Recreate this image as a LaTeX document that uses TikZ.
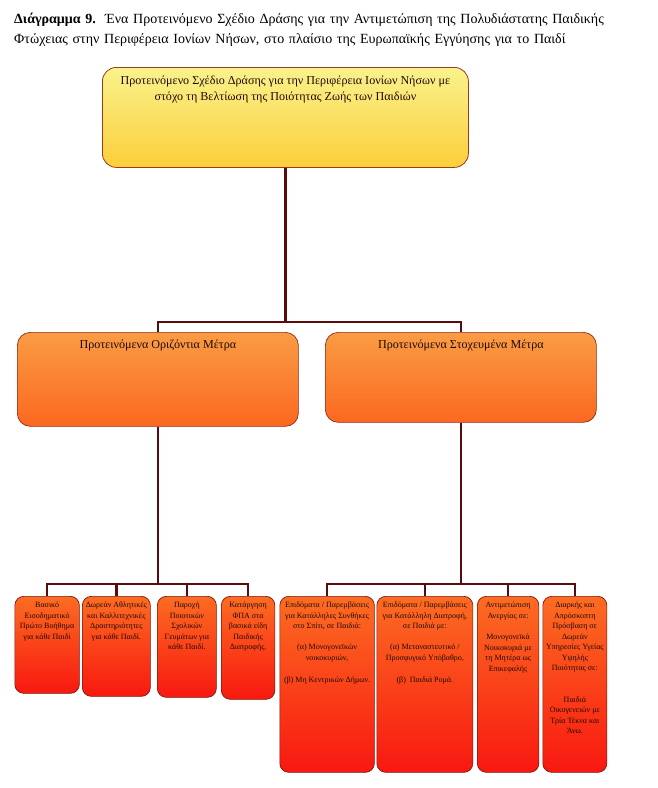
\documentclass[tikz,border=0pt]{standalone}
\usepackage{fontspec}
\setmainfont{Liberation Serif}
\definecolor{linkred}{HTML}{5A0C0C}
\definecolor{planedge}{HTML}{9A3A1E}
\definecolor{groupedge}{HTML}{8E2A18}
\definecolor{measedge}{HTML}{7A1810}
\definecolor{inktext}{HTML}{1E0A05}
\newcommand{\boxtext}[4]{\parbox[c][#2][t]{#1}{\centering\vspace*{#3}\strut#4\par}}
\newcommand{\captionfont}{\fontsize{14}{20}\selectfont\spaceskip=0.25em plus 1em minus 0.05em\relax}

\begin{document}
\begin{tikzpicture}[x=1pt,y=-1pt,
  planbox/.style={draw=planedge, line width=0.8pt, rounded corners=14pt, top color={rgb,255:red,249;green,242;blue,140}, bottom color={rgb,255:red,252;green,206;blue,58}, anchor=north west, inner sep=0pt, text=inktext, font=\fontsize{12.1}{16}\selectfont},
  groupbox/.style={draw=groupedge, line width=0.7pt, rounded corners=13pt, top color={rgb,255:red,250;green,156;blue,68}, bottom color={rgb,255:red,251;green,104;blue,32}, anchor=north west, inner sep=0pt, text=inktext, font=\fontsize{12.1}{14}\selectfont},
  measbox/.style={draw=measedge, line width=0.7pt, rounded corners=9pt, top color={rgb,255:red,252;green,108;blue,34}, bottom color={rgb,255:red,248;green,24;blue,16}, anchor=north west, inner sep=0pt, text=inktext, font=\fontsize{8}{10.5}\selectfont},
  link/.style={draw=linkred, line width=2.6pt}]
\useasboundingbox (0,0) rectangle (657,788);

%% caption
\node[anchor=north west, inner sep=0pt, text width=618pt, align=left, font=\captionfont] (title) at (14,12.5)
  {\makebox[618pt][s]{\textbf{Διάγραμμα 9.}\ \ Ένα Προτεινόμενο Σχέδιο Δράσης για την Αντιμετώπιση της Πολυδιάστατης Παιδικής}\\
   Φτώχειας στην Περιφέρεια Ιονίων Νήσων, στο πλαίσιο της Ευρωπαϊκής Εγγύησης για το Παιδί};

%% top level
\node[planbox] (plan) at (102,67) {\boxtext{366pt}{100pt}{5.5pt}{Προτεινόμενο Σχέδιο Δράσης για την Περιφέρεια Ιονίων Νήσων με\\ στόχο τη Βελτίωση της Ποιότητας Ζωής των Παιδιών}};

%% second level
\node[groupbox] (horiz) at (17,332) {\boxtext{281pt}{94pt}{6.5pt}{Προτεινόμενα Οριζόντια Μέτρα}};
\node[groupbox] (target) at (325,332) {\boxtext{271pt}{90pt}{6.5pt}{Προτεινόμενα Στοχευμένα Μέτρα}};

%% horizontal measures
\node[measbox] (s1) at (14.5,596) {\boxtext{64.5pt}{97pt}{4pt}{Βασικό\\ Εισοδηματικό\\ Πρώτο Βοήθημα\\ για κάθε Παιδί}};
\node[measbox] (s2) at (82,596) {\boxtext{68pt}{100pt}{4pt}{Δωρεάν Αθλητικές\\ και Καλλιτεχνικές\\ Δραστηριότητες\\ για κάθε Παιδί.}};
\node[measbox] (s3) at (157,596) {\boxtext{59pt}{101pt}{4pt}{Παροχή\\ Ποιοτικών\\ Σχολικών\\ Γευμάτων για\\ κάθε Παιδί.}};
\node[measbox] (s4) at (221,596) {\boxtext{53.5pt}{103pt}{4pt}{Κατάργηση\\ ΦΠΑ στα\\ βασικά είδη\\ Παιδικής\\ Διατροφής.}};

%% targeted measures
\node[measbox] (s5) at (279.5,596) {\boxtext{94.5pt}{176pt}{4pt}{Επιδόματα / Παρεμβάσεις\\ για Κατάλληλες Συνθήκες\\ στο Σπίτι, σε Παιδιά:\\[10.5pt] (α) Μονογονεϊκών\\ νοικοκυριών,\\[11.5pt] (β) Μη Κεντρικών Δήμων.}};
\node[measbox] (s6) at (376.5,596) {\boxtext{96pt}{176pt}{4pt}{Επιδόματα / Παρεμβάσεις\\ για Κατάλληλη Διατροφή,\\ σε Παιδιά με:\\[10.5pt] (α) Μεταναστευτικό /\\ Προσφυγικό Υπόβαθρο,\\[11.5pt] (β)\ \ Παιδιά Ρομά.}};
\node[measbox] (s7) at (477,596) {\boxtext{61.5pt}{176pt}{4pt}{Αντιμετώπιση\\ Ανεργίας σε:\\[11pt] Μονογονεϊκά\\ Νοικοκυριά με\\ τη Μητέρα ως\\ Επικεφαλής}};
\node[measbox] (s8) at (542.5,596) {\boxtext{64pt}{176pt}{4pt}{Διαρκής και\\ Απρόσκοπτη\\ Πρόσβαση σε\\ Δωρεάν\\ Υπηρεσίες Υγείας\\ Υψηλής\\ Ποιότητας σε:\\[21pt] Παιδιά\\ Οικογενειών με\\ Τρία Τέκνα και\\ Άνω.}};

%% connectors
\foreach \b in {horiz,target}
  \draw[link] (plan.south) |- ([yshift=10pt]\b.north) -- (\b.north);
\foreach \b in {s1,s2,s3,s4}
  \draw[link] (horiz.south) |- ([yshift=12pt]\b.north) -- (\b.north);
\foreach \b in {s5,s6,s7,s8}
  \draw[link] (target.south) |- ([yshift=12pt]\b.north) -- (\b.north);
\end{tikzpicture}
\end{document}
